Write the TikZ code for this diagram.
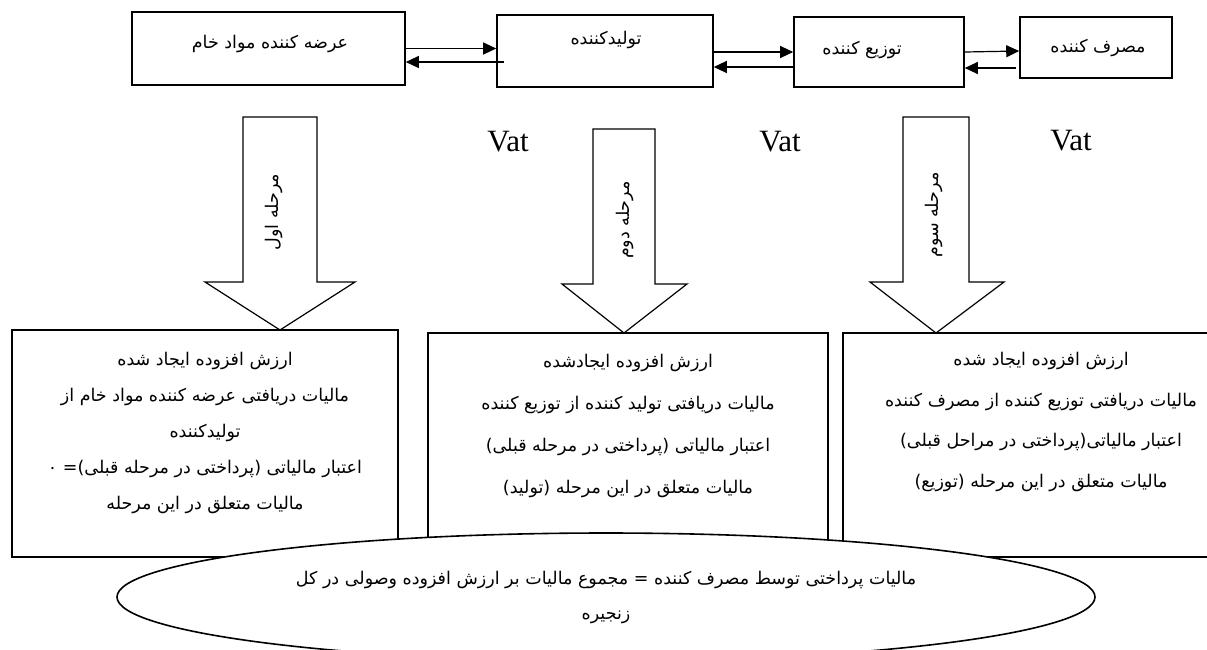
\documentclass[tikz,border=0pt]{standalone}
\usepackage{fontspec}
\setmainfont{Liberation Serif}
\newfontfamily\farsi[Script=Arabic]{DejaVu Sans}
\TeXXeTstate=1
\usetikzlibrary{arrows.meta,shapes.geometric}
\newcommand{\fatext}[1]{\beginR #1\endR}
\newcommand{\boxline}{1.6pt}

\begin{document}
\begin{tikzpicture}[x=1pt,y=-1pt,
    kadr/.style={draw, line width=\boxline, inner sep=0pt},
    matn/.style={font=\farsi\fontsize{17.5}{36}\selectfont, align=center, inner sep=0pt},
    peykan/.style={line width=1.2pt, -{Triangle[length=13pt,width=12pt]}}]
  \useasboundingbox (0,0) rectangle (1207,649);

      \node (arze) at (268.5,48.5) [kadr, minimum width=273pt, minimum height=73pt] {};
      \node (tolid) at (605,51) [kadr, minimum width=216pt, minimum height=72pt] {};
      \node (tozi) at (879,52) [kadr, minimum width=170pt, minimum height=70pt] {};
      \node (masraf) at (1096,47.5) [kadr, minimum width=152pt, minimum height=61pt] {};
      \node (arzet) at (270,44) [matn] {\fatext{عرضه کننده مواد خام}};
      \node (tolidt) at (606,40) [matn] {\fatext{تولیدکننده}};
      \node (tozit) at (862,50) [matn] {\fatext{توزیع کننده}};
      \node (masraft) at (1098,48) [matn] {\fatext{مصرف کننده}};
      \draw[peykan] (arze.east) -- ([shift={(0,-2.5)}]tolid.west);
      \draw[peykan] ([shift={(8,11)}]tolid.west) -- ([shift={(0,13.5)}]arze.east);
      \draw[peykan] ([shift={(0,1)}]tolid.east) -- (tozi.west);
      \draw[peykan] ([shift={(0,15)}]tozi.west) -- ([shift={(0,16)}]tolid.east);
      \draw[peykan] (tozi.east) -- ([shift={(0,3.5)}]masraf.west);
      \draw[peykan] ([shift={(-3,20.5)}]masraf.west) -- ([shift={(0,16)}]tozi.east);

      \draw[line width=1.2pt] (243,117) -- (317,117) -- (317,282) -- (355,282) -- (280,330) -- (205,282) -- (243,282) -- cycle;
      \draw[line width=1.2pt] (593,129) -- (655,129) -- (655,284) -- (687,284) -- (624,333) -- (562,284) -- (593,284) -- cycle;
      \draw[line width=1.2pt] (903,117) -- (969,117) -- (969,282) -- (1004,282) -- (936,333) -- (870,282) -- (903,282) -- cycle;
      \node (marhale1) at (274,212) [matn, rotate=90] {\fatext{مرحله اول}};
      \node (marhale2) at (625,220) [matn, rotate=90] {\fatext{مرحله دوم}};
      \node (marhale3) at (934,215) [matn, rotate=90] {\fatext{مرحله سوم}};
      \node (vat1) at (508,142) [font=\fontsize{31}{33}\selectfont] {Vat};
      \node (vat2) at (780,142) [font=\fontsize{31}{33}\selectfont] {Vat};
      \node (vat3) at (1071,141) [font=\fontsize{31}{33}\selectfont] {Vat};

      \node (sathA) at (205,443.5) [kadr, minimum width=386pt, minimum height=227pt] {};
      \node (sathB) at (628,445) [kadr, minimum width=400pt, minimum height=224pt] {};
      \node (sathC) at (1029,445) [kadr, minimum width=372pt, minimum height=224pt] {};
      \node (kol) at (606,597) [matn, font=\farsi\fontsize{17.5}{35}\selectfont, ellipse, draw, fill=white, line width=\boxline, minimum width=978pt, minimum height=128pt]
        {\fatext{مالیات پرداختی توسط مصرف کننده = مجموع مالیات بر ارزش افزوده وصولی در کل}\\ \fatext{زنجیره}};
      \node (matnA) at (205,433) [matn]
        {\fatext{ارزش افزوده ایجاد شده}\\ \fatext{مالیات دریافتی عرضه کننده مواد خام از}\\ \fatext{تولیدکننده}\\ \fatext{اعتبار مالیاتی (پرداختی در مرحله قبلی)= ۰}\\ \fatext{مالیات متعلق در این مرحله}};
      \node (matnB) at (628,426) [matn, font=\farsi\fontsize{17.5}{42}\selectfont]
        {\fatext{ارزش افزوده ایجادشده}\\ \fatext{مالیات دریافتی تولید کننده از توزیع کننده}\\ \fatext{اعتبار مالیاتی (پرداختی در مرحله قبلی)}\\ \fatext{مالیات متعلق در این مرحله (تولید)}};
      \node (matnC) at (1041,422) [matn, font=\farsi\fontsize{17.5}{40.5}\selectfont]
        {\fatext{ارزش افزوده ایجاد شده}\\ \fatext{مالیات دریافتی توزیع کننده از مصرف کننده}\\ \fatext{اعتبار مالیاتی(پرداختی در مراحل قبلی)}\\ \fatext{مالیات متعلق در این مرحله (توزیع)}};

\end{tikzpicture}
\end{document}
